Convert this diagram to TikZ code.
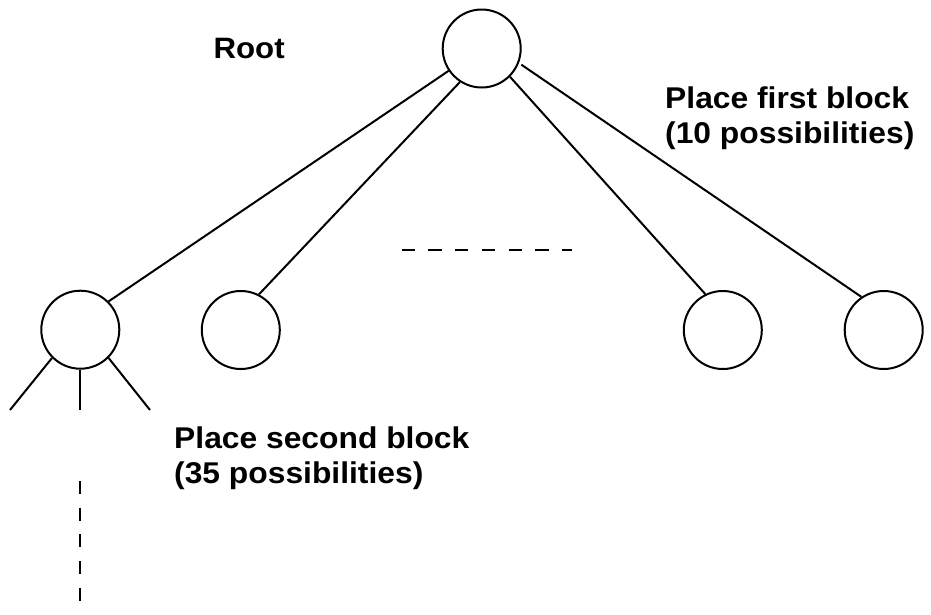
\documentclass[tikz,border=0pt]{standalone}
\usepackage{fontspec}
\setmainfont{Liberation Sans}[FakeStretch=1.06]
\begin{document}
\begin{tikzpicture}[x=1pt,y=-1pt,
  treenode/.style={circle,draw,line width=2pt,inner sep=0pt,minimum size=78pt},
  edge/.style={line width=2pt},
  gap/.style={line width=2pt,dash pattern=on 13.3pt off 13.4pt},
  lbl/.style={anchor=base west,inner sep=0pt,align=left,
    font=\fontsize{30}{35}\selectfont\bfseries}]
\useasboundingbox (0,0) rectangle (931,614);
\node[treenode] (root) at (481.7,48.5) {};
\node[treenode] (c1) at (80.3,329.7) {};
\node[treenode] (c2) at (240.8,330) {};
\node[treenode] (c3) at (722.8,330) {};
\node[treenode] (c4) at (883.7,330) {};
\draw[edge] (root.214) -- (c1.45);
\draw[edge] (root.237.6) -- (c2.63);
\draw[edge] (root.315) -- (c3.116);
\draw[edge] ([shift={(4,-2)}]root.333) -- (c4.124);
\coordinate (g1) at (10,410);
\coordinate (g2) at (80.3,410);
\coordinate (g3) at (150,410);
\draw[edge] (c1.225) -- (g1);
\draw[edge] (c1.270) -- (g2);
\draw[edge] (c1.315) -- (g3);
\coordinate (ha) at (401.7,250);
\coordinate (hb) at (572.3,250);
\draw[gap] (ha) -- (hb);
\coordinate (va) at (80.3,481);
\coordinate (vb) at (80.3,602);
\draw[gap,dash pattern=on 13pt off 13.7pt] (va) -- (vb);
\node[lbl,font=\fontsize{29.5}{35}\selectfont\bfseries] (rootlbl) at (213.3,58.3) {Root};
\node[lbl] (firstlbl) at (665,143) {Place first block\\(10 possibilities)};
\node[lbl] (secondlbl) at (174,483) {Place second block\\(35 possibilities)};
\end{tikzpicture}
\end{document}
